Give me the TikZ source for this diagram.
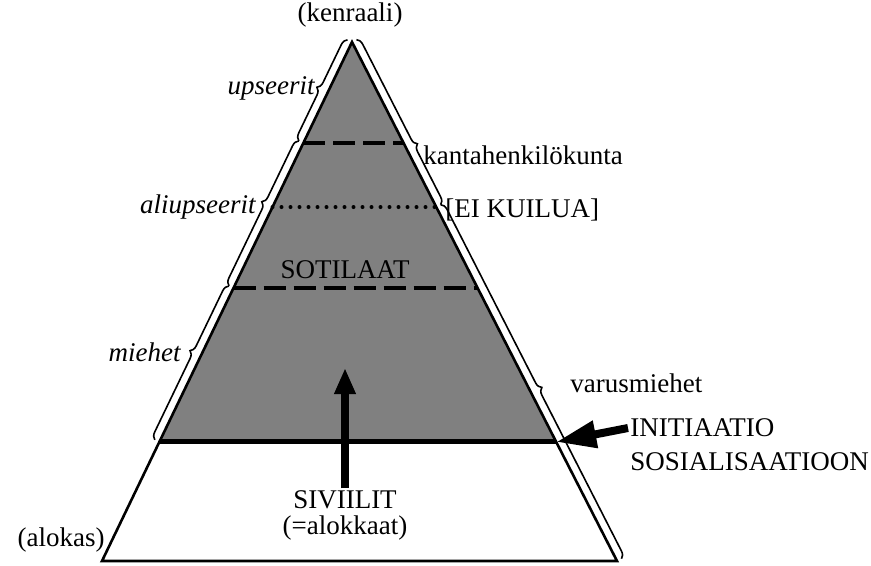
\documentclass[tikz,border=0pt]{standalone}
\usepackage{fontspec}
\setmainfont{Liberation Serif}
\usetikzlibrary{arrows.meta, positioning, calc, decorations.pathreplacing}

\begin{document}
\begin{tikzpicture}[x=0.5pt, y=-0.5pt,
    sidetext/.style={inner sep=1pt, font=\fontsize{13.5}{15}\selectfont},
    ranktext/.style={inner sep=1pt, font=\fontsize{13.5}{15}\selectfont\itshape},
    sidebrace/.style={decorate, line width=0.8pt, decoration={brace, amplitude=3.5pt, raise=2.5pt, aspect=#1}}]

        \useasboundingbox (0,0) rectangle (871,566);

        % Corners of the pyramid
        \coordinate (apex) at (352,42);
        \coordinate (bl) at (102,561);
        \coordinate (br) at (617,561);

        % Level points on both sides
        \coordinate (l1) at ($(apex)!0.1946!(bl)$);
        \coordinate (r1) at ($(apex)!0.1946!(br)$);
        \coordinate (l2) at ($(apex)!0.318!(bl)$);
        \coordinate (r2) at ($(apex)!0.318!(br)$);
        \coordinate (l3) at ($(apex)!0.474!(bl)$);
        \coordinate (r3) at ($(apex)!0.474!(br)$);
        \coordinate (l4) at ($(apex)!0.7707!(bl)$);
        \coordinate (r4) at ($(apex)!0.7707!(br)$);

        % Shaded part and outline
        \fill[black!50] (apex) -- (l4) -- (r4) -- cycle;
        \draw[line width=1.3pt, line join=miter] (apex) -- (bl) -- (br) -- cycle;

        % Levels
        \draw[line width=1.6pt, dash pattern=on 11pt off 4pt] (l1) -- (r1);
        \draw[line width=2pt, line cap=round, dash pattern=on 0pt off 4.5pt] (l2) -- (r2);
        \draw[line width=1.6pt, dash pattern=on 11pt off 4pt] (l3) -- (r3);
        \draw[line width=2.5pt] (l4) -- (r4);

        % Braces
        \draw[sidebrace=0.5] (l1) -- (apex);
        \draw[sidebrace=0.56] (l3) -- (l1);
        \draw[sidebrace=0.56] (l4) -- (l3);
        \draw[sidebrace=0.65] (apex) -- (r2);
        \draw[sidebrace=0.525] (r2) -- (br);

        % Labels
        \node[sidetext] (kenraali) at (350,15) {(kenraali)};
        \node[ranktext, anchor=east] (upseerit) at (317,88) {upseerit};
        \node[ranktext, anchor=east] (aliupseerit) at (258,207) {aliupseerit};
        \node[ranktext, anchor=east] (miehet) at (183,352) {miehet};
        \node[sidetext, anchor=east] (alokas) at (107,540) {(alokas)};
        \node[sidetext, anchor=west] (kanta) at (421,155) {kantahenkilökunta};
        \node[sidetext, anchor=west] (eikuilua) at (443,210) {[EI KUILUA]};
        \node[sidetext, anchor=west] (varus) at (568,383) {varusmiehet};
        \node[sidetext, anchor=west] (init) at (628,428) {INITIAATIO};
        \node[sidetext, anchor=west] (sosial) at (628,462) {SOSIALISAATIOON};
        \node[sidetext] (sotilaat) at (345,270) {SOTILAAT};
        \node[sidetext] (siviilit) at (345,500) {SIVIILIT};
        \node[sidetext] (alokkaat) at (345,528) {(=alokkaat)};
        \coordinate (uptip) at (345,368);

        % Arrows
        \draw[line width=4pt, -{Triangle[length=13pt, width=10pt]}] (siviilit.north) -- (uptip);
        \draw[line width=4pt, -{Triangle[length=20pt, width=13pt]}] (init.west) -- (r4);

\end{tikzpicture}
\end{document}
